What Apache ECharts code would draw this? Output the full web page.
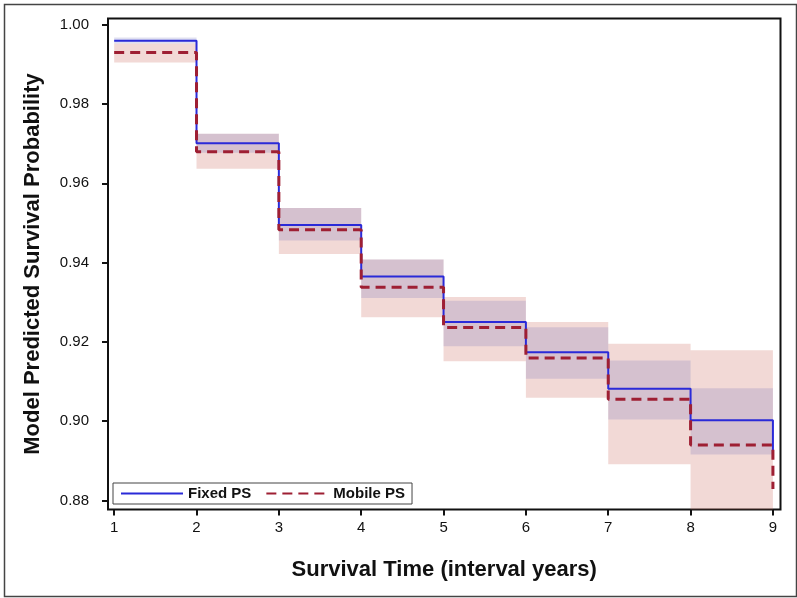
<!DOCTYPE html>
<html>
<head>
<meta charset="utf-8">
<script src="https://cdn.jsdelivr.net/npm/echarts@6/dist/echarts.min.js"></script>
<style>
html,body{margin:0;padding:0;background:#fff;}
#chart{width:797px;height:598px;}
</style>
</head>
<body>
<div id="chart"></div>
<script>
// Time points (interval years)
const timePoints = [1, 2, 3, 4, 5, 6, 7, 8, 9];
// Step values at each time point (last value = value reached at t = 9)
const fixedSurv  = [0.9960, 0.9701, 0.9495, 0.9365, 0.9250, 0.9174, 0.9082, 0.9002, 0.8908];
const mobileSurv = [0.9930, 0.9680, 0.9483, 0.9338, 0.9236, 0.9159, 0.9055, 0.8940, 0.8829];
// Confidence bands per interval [t_i, t_i+1]
const fixedLower  = [0.9953, 0.9677, 0.9456, 0.9311, 0.9189, 0.9107, 0.9004, 0.8916];
const fixedUpper  = [0.9968, 0.9725, 0.9538, 0.9408, 0.9304, 0.9237, 0.9153, 0.9083];
const mobileLower = [0.9905, 0.9637, 0.9422, 0.9262, 0.9151, 0.9059, 0.8891, 0.8755];
const mobileUpper = [0.9953, 0.9725, 0.9538, 0.9408, 0.9313, 0.9250, 0.9195, 0.9179];
// Axis ticks
const xTicks = [1, 2, 3, 4, 5, 6, 7, 8, 9];
const yTicks = [0.88, 0.90, 0.92, 0.94, 0.96, 0.98, 1.00];

const FONT = "'Liberation Sans', Arial, sans-serif";

function bandData(lower, upper) {
  const out = [];
  for (let i = 0; i < lower.length; i++) {
    out.push([timePoints[i], timePoints[i + 1], lower[i], upper[i]]);
  }
  return out;
}
function stepData(vals) {
  return timePoints.map((t, i) => [t, vals[i]]);
}
function bandRenderer(color) {
  return function (params, api) {
    const x0 = api.value(0), x1 = api.value(1), lo = api.value(2), hi = api.value(3);
    const p0 = api.coord([x0, hi]);
    const p1 = api.coord([x1, lo]);
    const cs = params.coordSys;
    const shape = echarts.graphic.clipRectByRect(
      { x: p0[0], y: p0[1], width: p1[0] - p0[0], height: p1[1] - p0[1] },
      { x: cs.x, y: cs.y, width: cs.width, height: cs.height }
    );
    return shape && { type: 'rect', shape: shape, style: { fill: color } };
  };
}

const chart = echarts.init(document.getElementById('chart'), null, { renderer: 'canvas' });
chart.setOption({
  animation: false,
  backgroundColor: '#fff',
  graphic: [{
    type: 'rect', left: 2, top: 2, silent: true,
    shape: { width: 792, height: 592 },
    style: { fill: 'none', stroke: '#444', lineWidth: 1.5 }
  }],
  grid: {
    left: 108, right: 16.5, top: 18.5, bottom: 88.5,
    show: true, borderColor: '#111', borderWidth: 2, backgroundColor: 'transparent'
  },
  legend: {
    data: ['Fixed PS', 'Mobile PS'],
    left: 113, top: 483,
    orient: 'horizontal',
    itemWidth: 62, itemHeight: 14, itemGap: 14,
    padding: [3, 7, 3, 7],
    borderColor: '#444', borderWidth: 1, backgroundColor: '#fff',
    itemStyle: { opacity: 0, borderWidth: 0 },
    textStyle: { fontFamily: FONT, fontSize: 15, fontWeight: 'bold', color: '#111' }
  },
  xAxis: {
    type: 'value', min: 0.925, max: 9.092,
    name: 'Survival Time (interval years)',
    nameLocation: 'middle', nameGap: 49,
    nameTextStyle: { fontFamily: FONT, fontSize: 22, fontWeight: 'bold', color: '#111' },
    axisLine: { show: false },
    splitLine: { show: false },
    axisTick: { show: true, customValues: xTicks, length: 6, lineStyle: { color: '#111', width: 2 } },
    axisLabel: { customValues: xTicks, margin: 11, fontFamily: FONT, fontSize: 15, color: '#111' }
  },
  yAxis: {
    type: 'value', min: 0.8777, max: 1.0016,
    name: 'Model Predicted Survival Probability',
    nameLocation: 'middle', nameGap: 64,
    nameTextStyle: { fontFamily: FONT, fontSize: 22, fontWeight: 'bold', color: '#111' },
    axisLine: { show: false },
    splitLine: { show: false },
    axisTick: { show: true, customValues: yTicks, length: 6, lineStyle: { color: '#111', width: 2 } },
    axisLabel: {
      customValues: yTicks, margin: 19, fontFamily: FONT, fontSize: 15, color: '#111',
      formatter: v => v.toFixed(2)
    }
  },
  series: [
    {
      name: 'Mobile CI', type: 'custom', silent: true, z: 1,
      renderItem: bandRenderer('rgba(205,110,95,0.26)'),
      encode: { x: [0, 1], y: [2, 3] },
      data: bandData(mobileLower, mobileUpper)
    },
    {
      name: 'Fixed CI', type: 'custom', silent: true, z: 1,
      renderItem: bandRenderer('rgba(100,100,180,0.2)'),
      encode: { x: [0, 1], y: [2, 3] },
      data: bandData(fixedLower, fixedUpper)
    },
    {
      name: 'Fixed PS', type: 'line', step: 'end', symbol: 'none', z: 3,
      color: '#2a2ad8',
      lineStyle: { color: '#2a2ad8', width: 2 },
      data: stepData(fixedSurv)
    },
    {
      name: 'Mobile PS', type: 'line', step: 'end', symbol: 'none', z: 4,
      color: '#9e1f33',
      lineStyle: { color: '#9e1f33', width: 3, type: [10, 6] },
      data: stepData(mobileSurv)
    }
  ]
});
</script>
</body>
</html>
